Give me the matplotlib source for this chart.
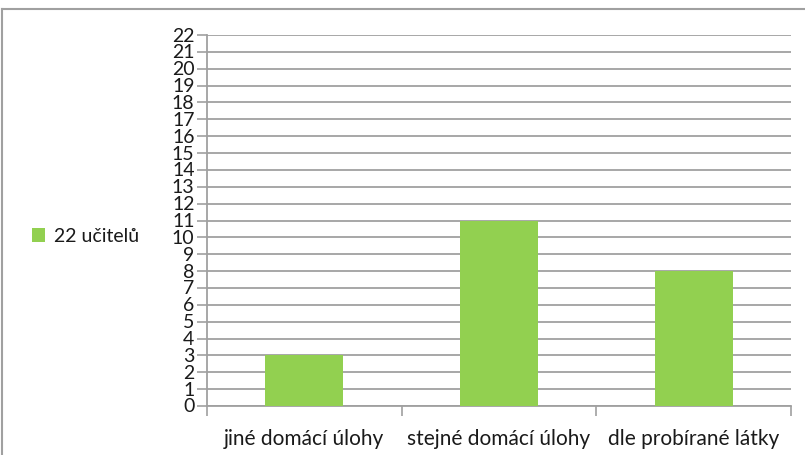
import matplotlib.pyplot as plt
from matplotlib.lines import Line2D

categories = ['jiné domácí úlohy', 'stejné domácí úlohy', 'dle probírané látky']
teachers = [3, 11, 8]
series_name = '22 učitelů'
y_ticks = list(range(0, 23))

green = '#92D050'
grid_gray = '#A0A0A0'
text_color = '#1a1a1a'

plt.rcParams['font.family'] = ['Lato', 'DejaVu Sans']

fig = plt.figure(figsize=(8.05, 4.56), dpi=100)
ax = fig.add_axes([207 / 805, 49 / 456, 584 / 805, 371 / 456])

x = range(len(categories))
ax.bar(x, teachers, width=0.4, color=green, label=series_name, zorder=3)

ax.set_xlim(-0.5, len(categories) - 0.5)
ax.set_ylim(0, 22)
ax.set_yticks(y_ticks)
ax.set_xticks(list(x))
ax.set_xticklabels(categories, fontsize=15, color=text_color)
ax.set_xticks([i - 0.5 for i in range(len(categories) + 1)], minor=True)
ax.tick_params(axis='x', which='major', length=0, pad=16)
ax.tick_params(axis='x', which='minor', length=7, width=1.2, color=grid_gray)
ax.tick_params(axis='y', length=7, width=1.2, color=grid_gray, labelsize=14,
               labelcolor=text_color, pad=2)
for lbl in ax.get_yticklabels():
    lbl.set_verticalalignment('center')

ax.grid(axis='y', color=grid_gray, linewidth=1.3, zorder=0)
for side in ['top', 'right']:
    ax.spines[side].set_visible(False)
for side in ['left', 'bottom']:
    ax.spines[side].set_color(grid_gray)
    ax.spines[side].set_linewidth(1.3)

# series legend on the left side of the chart
leg = fig.legend(loc='center left', bbox_to_anchor=(14 / 805, 1 - 237 / 456),
                 frameon=False, fontsize=14, handlelength=0.7, handleheight=0.7,
                 handletextpad=0.45)
for t in leg.get_texts():
    t.set_color(text_color)

# chart area border
fig.add_artist(Line2D([1.5 / 805, 1.5 / 805], [0, 1 - 10 / 456],
                      transform=fig.transFigure, color=grid_gray, linewidth=1.5))
fig.add_artist(Line2D([1.5 / 805, 1], [1 - 10 / 456, 1 - 10 / 456],
                      transform=fig.transFigure, color=grid_gray, linewidth=1.5))

fig.savefig('out.png', dpi=100)
